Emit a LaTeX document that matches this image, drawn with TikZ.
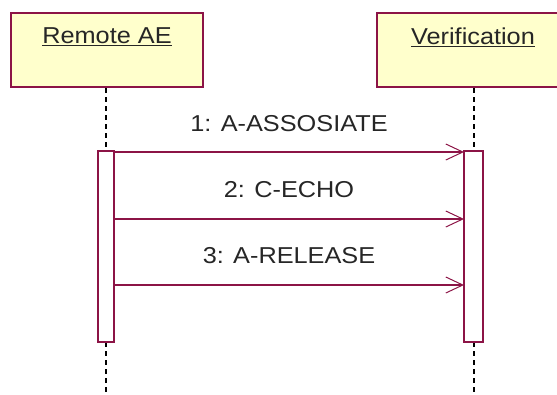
\documentclass[tikz,border=0pt]{standalone}
\usepackage{fontspec}
\setmainfont{Liberation Sans}
\usetikzlibrary{arrows.meta}
\definecolor{umlred}{RGB}{140,20,70}
\definecolor{umlfill}{RGB}{255,255,204}
\tikzset{
  objbox/.style={draw=umlred, fill=umlfill, line width=1.3pt},
  actbox/.style={draw=umlred, fill=white, line width=1.3pt},
  lifeline/.style={draw=black, line width=1.6pt, dash pattern=on 5pt off 4pt},
  msg/.style={draw=umlred, line width=1.3pt, -{Straight Barb[length=17pt,width=16pt,line width=1pt]}},
  lbl/.style={font=\fontsize{23}{27}\selectfont, inner sep=0pt, text=black!85, xscale=1.1},
}
\begin{document}
\begin{tikzpicture}[x=1pt,y=-1pt]
\useasboundingbox (0,0) rectangle (557,394);
\clip (0,0) rectangle (557,394);
% object boxes
\draw[objbox] (11,13) rectangle (203,87);
\node[lbl, anchor=center] (ra) at (107,37) {\underline{Remote AE}};
\draw[objbox] (377,13) rectangle (575,87);
\node[lbl, anchor=center] (ver) at (473,37) {\underline{Verification}};
% lifelines
\coordinate (l1top) at (106,88);
\coordinate (l1a) at (106,151);
\coordinate (l1b) at (106,342);
\coordinate (l1bot) at (106,394);
\coordinate (l2top) at (474,88);
\coordinate (l2a) at (474,151);
\coordinate (l2b) at (474,342);
\coordinate (l2bot) at (474,394);
\draw[lifeline] (l1top) -- (l1a);
\draw[lifeline] (l1b) -- (l1bot);
\draw[lifeline] (l2top) -- (l2a);
\draw[lifeline] (l2b) -- (l2bot);
% activations
\draw[actbox] (98,151) rectangle (114,342);
\draw[actbox] (464,151) rectangle (483,342);
% messages
\coordinate (s1) at (114,152); \coordinate (t1) at (464,152);
\coordinate (s2) at (114,219); \coordinate (t2) at (464,219);
\coordinate (s3) at (114,285); \coordinate (t3) at (464,285);
\draw[msg] (s1) -- (t1);
\draw[msg] (s2) -- (t2);
\draw[msg] (s3) -- (t3);
\node[lbl] (m1) at (289,124) {1: A-ASSOSIATE};
\node[lbl] (m2) at (289,190) {2: C-ECHO};
\node[lbl] (m3) at (289,256) {3: A-RELEASE};
\end{tikzpicture}
\end{document}
